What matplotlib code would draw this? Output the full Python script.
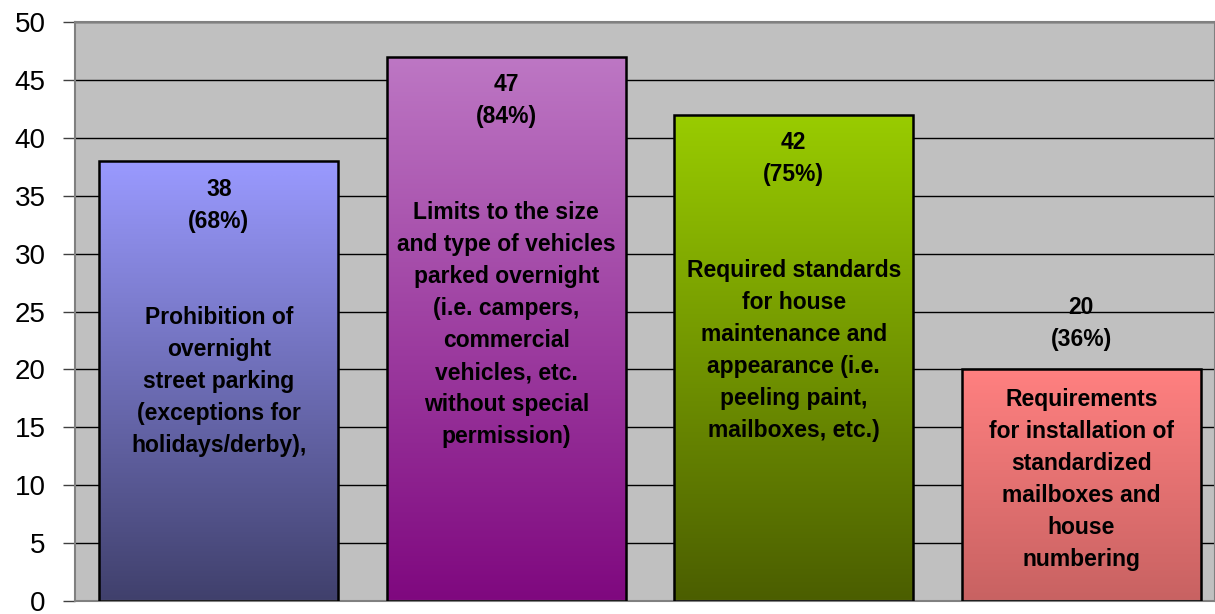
import matplotlib.pyplot as plt
import numpy as np
from matplotlib.colors import LinearSegmentedColormap

plt.rcParams['font.family'] = ['Liberation Sans', 'DejaVu Sans']

# data
values = [38, 47, 42, 20]
percents = [68, 84, 75, 36]
descriptions = [
    "Prohibition of\novernight\nstreet parking\n(exceptions for\nholidays/derby),",
    "Limits to the size\nand type of vehicles\nparked overnight\n(i.e. campers,\ncommercial\nvehicles, etc.\nwithout special\npermission)",
    "Required standards\nfor house\nmaintenance and\nappearance (i.e.\npeeling paint,\nmailboxes, etc.)",
    "Requirements\nfor installation of\nstandardized\nmailboxes and\nhouse\nnumbering",
]
yticks = [0, 5, 10, 15, 20, 25, 30, 35, 40, 45, 50]
# top / bottom colours of the gradient fill for each bar
top_colors = ['#9a9aff', '#bd77c4', '#99cc00', '#ff8080']
bottom_colors = ['#40406c', '#7f087f', '#4b5e00', '#c86262']

fig = plt.figure(figsize=(12.15, 6.14), dpi=100, facecolor='white')
ax = fig.add_axes([75 / 1215, 13 / 614, 1140 / 1215, 579 / 614])
ax.set_facecolor('#c0c0c0')

x = np.arange(len(values))
bars = ax.bar(x, values, width=0.83, facecolor='none', edgecolor='black',
              linewidth=1.8, zorder=3)

# gradient fill, clipped to each bar
grad = np.linspace(1, 0, 256).reshape(-1, 1)
for i, b in enumerate(bars):
    cmap = LinearSegmentedColormap.from_list('g%d' % i, [bottom_colors[i], top_colors[i]])
    x0, w, h = b.get_x(), b.get_width(), b.get_height()
    im = ax.imshow(grad, cmap=cmap, aspect='auto', extent=(x0, x0 + w, 0, h),
                   zorder=2, vmin=0, vmax=1)
    im.set_clip_path(b)

ax.set_xlim(-0.5, 3.465)
ax.set_ylim(0, 50)
ax.set_yticks(yticks)
ax.set_xticks([])
ax.yaxis.grid(True, color='black', linewidth=1)
ax.set_axisbelow(True)
ax.tick_params(axis='y', length=9, width=1, color='#404040', pad=12, labelsize=20)
for side in ['top', 'right', 'bottom', 'left']:
    ax.spines[side].set_color('#808080')
    ax.spines[side].set_linewidth(1.5)

# labels
fs = 16.5
ls = 1.5
for i, b in enumerate(bars):
    cx = b.get_x() + b.get_width() / 2
    h = b.get_height()
    if i < 3:
        txt = '%d\n(%d%%)\n\n\n%s' % (values[i], percents[i], descriptions[i])
        ax.annotate(txt, xy=(cx, h), xytext=(0, -12), textcoords='offset points',
                    ha='center', va='top', fontsize=fs, fontweight='bold',
                    linespacing=ls, zorder=4)
    else:
        ax.annotate('%d\n(%d%%)' % (values[i], percents[i]), xy=(cx, h),
                    xytext=(0, 53), textcoords='offset points',
                    ha='center', va='top', fontsize=fs, fontweight='bold',
                    linespacing=ls, zorder=4)
        ax.annotate(descriptions[i], xy=(cx, h / 2), xytext=(0, 4),
                    textcoords='offset points', ha='center', va='center',
                    fontsize=fs, fontweight='bold', linespacing=ls, zorder=4)

fig.savefig('out.png', dpi=100)
